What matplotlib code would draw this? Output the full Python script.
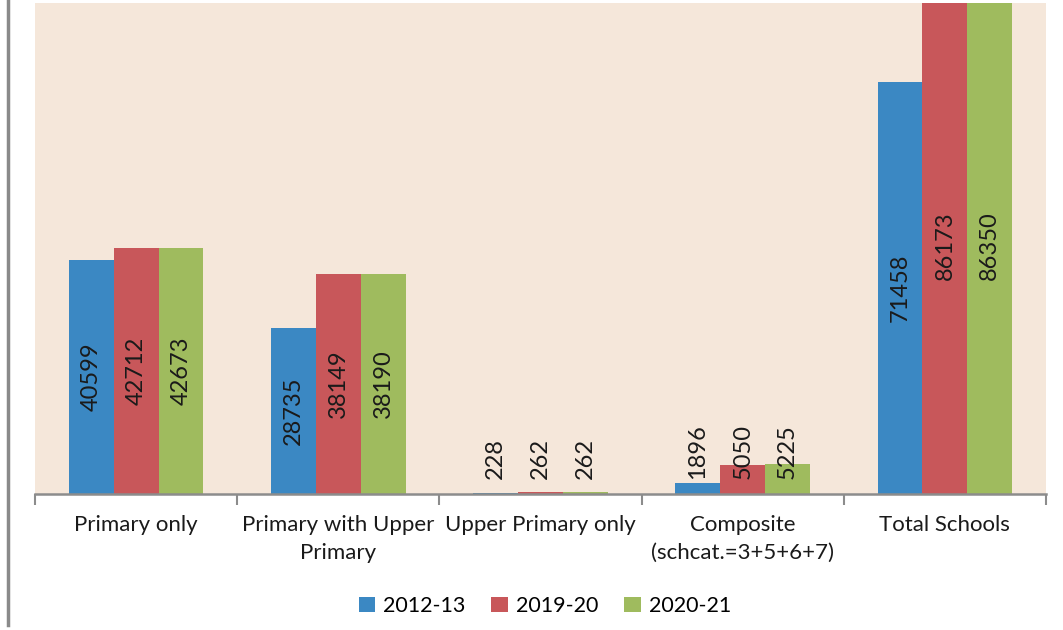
import matplotlib
matplotlib.use("Agg")
import matplotlib.pyplot as plt
import numpy as np
from matplotlib.lines import Line2D

plt.rcParams['font.family'] = ['Lato', 'DejaVu Sans']

categories = ["Primary only", "Primary with Upper\nPrimary", "Upper Primary only",
              "Composite\n(schcat.=3+5+6+7)", "Total Schools"]
series_names = ["2012-13", "2019-20", "2020-21"]
values_2012 = [40599, 28735, 228, 1896, 71458]
values_2019 = [42712, 38149, 262, 5050, 86173]
values_2020 = [42673, 38190, 262, 5225, 86350]
colors = ["#3b88c3", "#c8575a", "#9fbb5e"]

series = [values_2012, values_2019, values_2020]

fig = plt.figure(figsize=(10.63, 6.30), dpi=100)
ax = fig.add_axes([35/1063, 1-494/630, (1046-35)/1063, (494-3)/630])
ax.set_facecolor("#f5e7da")

x = np.arange(len(categories))
w = 0.222
ymax = 85200
for i, (vals, c, name) in enumerate(zip(series, colors, series_names)):
    xs = x + (i - 1) * w
    ax.bar(xs, vals, width=w, color=c, label=name, linewidth=0)
    for xi, v in zip(xs, vals):
        if v > 10000:
            ax.text(xi, v / 2, str(v), rotation=90, ha='center', va='center',
                    fontsize=17, color='#1a1a1a')
        else:
            ax.text(xi, 2600, str(v), rotation=90, ha='center', va='bottom',
                    fontsize=17, color='#1a1a1a')

ax.set_xlim(-0.5, len(categories) - 0.5)
ax.set_ylim(0, ymax)
for s in ['top', 'right', 'left']:
    ax.spines[s].set_visible(False)
ax.spines['bottom'].set_color('#8c8c8c')
ax.spines['bottom'].set_linewidth(1.8)
ax.spines['bottom'].set_zorder(3)
ax.set_yticks([])
ax.set_xticks(x)
ax.set_xticklabels(categories, fontsize=16, color='#1a1a1a', linespacing=1.5)
ax.tick_params(axis='x', which='major', length=0, pad=15)
ax.set_xticks(np.arange(-0.5, len(categories), 1.0), minor=True)
ax.tick_params(axis='x', which='minor', length=8, width=1.5, color='#8c8c8c', direction='out')

# left border line of the figure
fig.add_artist(Line2D([8/1063, 8/1063], [1-625/630, 1.0], color='#8a8a8a', linewidth=2.5))

handles, labels = ax.get_legend_handles_labels()
fig.legend(handles, labels, loc='center', bbox_to_anchor=(545/1063, 1-606/630),
           ncol=3, frameon=False, fontsize=15.5, handlelength=0.75, handleheight=0.75,
           handletextpad=0.4, columnspacing=1.2)

fig.savefig("out.png", dpi=100, facecolor='white')
